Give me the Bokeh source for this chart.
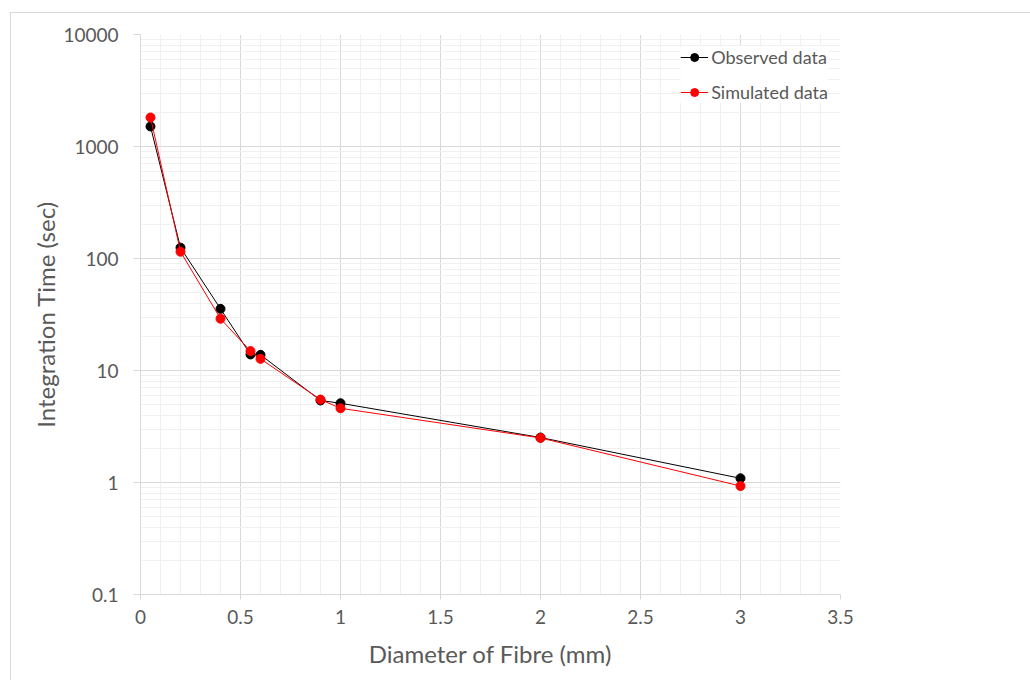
from bokeh.plotting import figure
from bokeh.models import FixedTicker, CustomJSTickFormatter, Legend, LegendItem
from bokeh.embed import file_html
from bokeh.resources import INLINE

# ---- data ----
diameter = [0.05, 0.2, 0.4, 0.55, 0.6, 0.9, 1.0, 2.0, 3.0]
observed = [1510, 125, 35.5, 13.9, 13.8, 5.4, 5.1, 2.52, 1.09]
simulated = [1815, 115, 29, 14.9, 12.7, 5.5, 4.6, 2.5, 0.93]

x_ticks = [0, 0.5, 1, 1.5, 2, 2.5, 3, 3.5]
x_minor = [round(i * 0.1, 1) for i in range(36)]
y_ticks = [0.1, 1, 10, 100, 1000, 10000]
y_minor = [m * d for d in [0.1, 1, 10, 100, 1000] for m in range(1, 10)]

FONT = "Lato"
TXT = "#595959"
GRID = "#d9d9d9"
MINOR = "#f0f0f0"

W, H = 1019, 667
p = figure(width=W, height=H, y_axis_type="log",
           x_range=(0, 3.5), y_range=(0.1, 10000),
           output_backend="svg", toolbar_location=None,
           min_border_left=129, min_border_right=190,
           min_border_top=21, min_border_bottom=86)
p.frame_width = 700
p.frame_height = 560
p.styles = {"margin-left": "10px", "margin-top": "12px",
            "border-left": "1px solid #d9d9d9", "border-top": "1px solid #d9d9d9"}
p.outline_line_color = None
p.background_fill_color = "white"
p.border_fill_color = "white"

# x axis
p.xaxis.ticker = FixedTicker(ticks=x_ticks, minor_ticks=x_minor)
p.xaxis.axis_label = "Diameter of Fibre (mm)"
p.xaxis.axis_line_color = GRID
p.xaxis.major_tick_line_color = GRID
p.xaxis.major_tick_out = 5
p.xaxis.major_tick_in = 0
p.xaxis.minor_tick_line_color = None
p.xaxis.major_label_standoff = 10
p.xaxis.axis_label_standoff = 12

# y axis
p.yaxis.ticker = FixedTicker(ticks=y_ticks, minor_ticks=y_minor)
p.yaxis.formatter = CustomJSTickFormatter(code="return String(tick);")
p.yaxis.axis_label = "Integration Time (sec)"
p.yaxis.axis_line_color = GRID
p.yaxis.major_tick_line_color = GRID
p.yaxis.major_tick_out = 7
p.yaxis.major_tick_in = 0
p.yaxis.minor_tick_line_color = None
p.yaxis.major_label_standoff = 15
p.yaxis.axis_label_standoff = 0

for ax in (p.xaxis, p.yaxis):
    ax.major_label_text_font = FONT
    ax.major_label_text_font_size = "19px"
    ax.major_label_text_color = TXT
    ax.axis_label_text_font = FONT
    ax.axis_label_text_font_size = "24px"
    ax.axis_label_text_font_style = "normal"
    ax.axis_label_text_color = TXT

for g in (p.xgrid, p.ygrid):
    g.grid_line_color = GRID
    g.grid_line_width = 1
    g.minor_grid_line_color = MINOR
    g.minor_grid_line_width = 1

# series
ol = p.line(diameter, observed, line_color="black", line_width=1)
oc = p.scatter(diameter, observed, size=9, fill_color="black", line_color="black")
sl = p.line(diameter, simulated, line_color="#ff0000", line_width=1)
sc = p.scatter(diameter, simulated, size=9, fill_color="#ff0000", line_color="#ff0000")

legend = Legend(items=[LegendItem(label="Observed data", renderers=[ol, oc]),
                       LegendItem(label="Simulated data", renderers=[sl, sc])],
                location="top_right")
legend.label_text_font = FONT
legend.label_text_font_size = "18px"
legend.label_text_color = TXT
legend.border_line_color = None
legend.background_fill_color = "white"
legend.background_fill_alpha = 1
legend.glyph_width = 28
legend.glyph_height = 20
legend.label_standoff = 3
legend.spacing = 13
legend.padding = 4
legend.margin = 12
legend.label_height = 20
p.add_layout(legend)

open("out.html", "w").write(file_html(p, INLINE))
